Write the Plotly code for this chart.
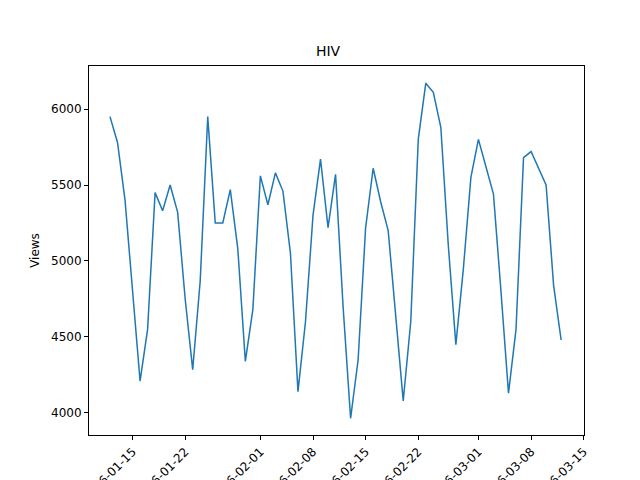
import plotly.graph_objects as go
import pandas as pd

dates = pd.date_range("2016-01-12", periods=61, freq="D")
views = [5950,5780,5400,4800,4210,4550,5450,5330,5500,5320,4750,4285,4870,5950,5250,5250,5470,5080,4340,4680,
         5560,5370,5580,5460,5050,4140,4600,5300,5670,5220,5570,4700,3965,4350,5220,5610,5390,5200,4650,4080,
         4600,5800,6170,6110,5880,5100,4450,4950,5550,5800,5620,5440,4800,4130,4550,5680,5720,5610,5500,4840,4480]
tick_vals = ["2016-01-15","2016-01-22","2016-02-01","2016-02-08","2016-02-15","2016-02-22","2016-03-01","2016-03-08","2016-03-15"]

fig = go.Figure(go.Scatter(x=dates, y=views, mode="lines", line=dict(color="#1f77b4", width=1.5)))
axis = dict(showline=True, linecolor="black", mirror=True, showgrid=False, zeroline=False, automargin=False,
            ticks="outside", ticklen=4, tickcolor="black", tickfont=dict(size=12, color="black"))
fig.update_layout(
    width=640, height=480, plot_bgcolor="white", paper_bgcolor="white",
    margin=dict(l=81, r=64, t=58, b=53),
    font=dict(family="DejaVu Sans", color="black"),
    title=dict(text="HIV", x=0.5, xanchor="center", y=0.91, yanchor="middle", font=dict(size=14)),
    showlegend=False,
    xaxis=dict(axis, range=["2016-01-09 05:00", "2016-03-15 01:00"], tickvals=tick_vals, ticktext=tick_vals, tickangle=-45),
    yaxis=dict(axis, range=[3855, 6283], tickvals=[4000,4500,5000,5500,6000],
               title=dict(text="Views", font=dict(size=12), standoff=8)),
)
fig.write_html("out.html")
